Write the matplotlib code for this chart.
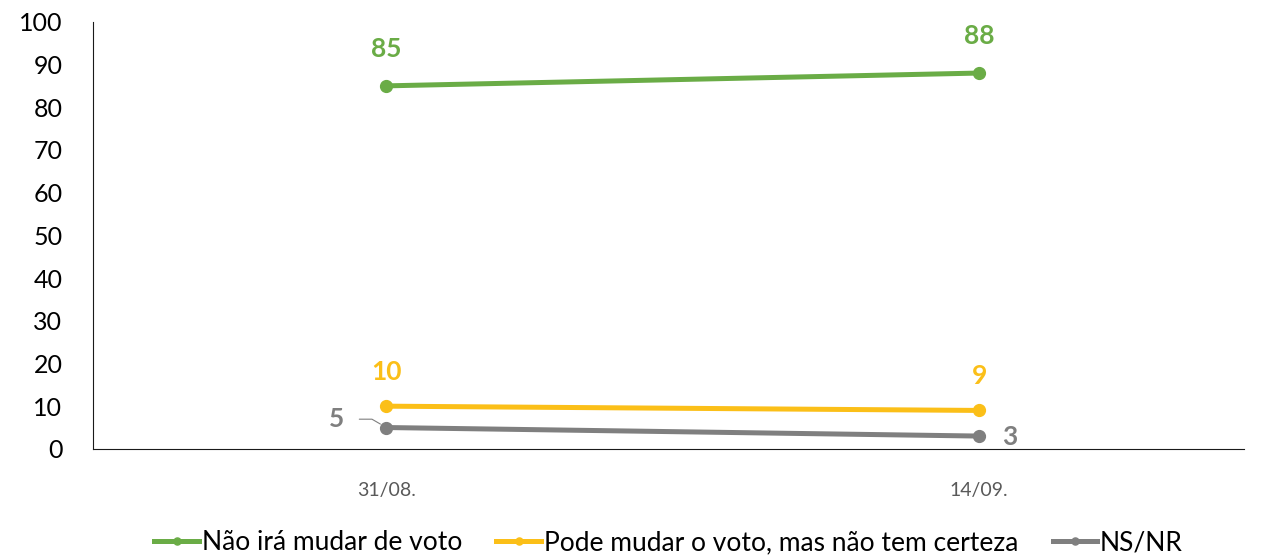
import matplotlib.pyplot as plt

plt.rcParams['font.family'] = ['Lato', 'DejaVu Sans']

datas = ["31/08.", "14/09."]
nao_muda = [85, 88]
pode_mudar = [10, 9]
ns_nr = [5, 3]
nomes = ["Não irá mudar de voto", "Pode mudar o voto, mas não tem certeza", "NS/NR"]

verde = "#6aac46"
amarelo = "#fbbf18"
cinza = "#7f7f7f"

fig = plt.figure(figsize=(12.61, 5.59), dpi=100)
ax = fig.add_axes([0.0737, 0.197, 0.913, 0.764])

x = list(range(len(datas)))
ax.plot(x, nao_muda, color=verde, lw=3.6, marker="o", ms=8.5, label=nomes[0])
ax.plot(x, pode_mudar, color=amarelo, lw=3.6, marker="o", ms=8.5, label=nomes[1])
ax.plot(x, ns_nr, color=cinza, lw=3.6, marker="o", ms=8.5, label=nomes[2])

# rótulos
fs = 19
for i in x:
    ax.annotate(str(nao_muda[i]), (i, nao_muda[i]), xytext=(0, 18), textcoords="offset points",
                ha="center", va="bottom", color=verde, fontsize=fs, fontweight="bold")
for i in x:
    ax.annotate(str(pode_mudar[i]), (i, pode_mudar[i]), xytext=(0, 16), textcoords="offset points",
                ha="center", va="bottom", color=amarelo, fontsize=fs, fontweight="bold")
ax.annotate(str(ns_nr[0]), (0, ns_nr[0]), xytext=(-36, 6), textcoords="offset points",
            ha="center", va="center", color=cinza, fontsize=fs, fontweight="bold",
            arrowprops=dict(arrowstyle="-", color=cinza, lw=0.8, shrinkA=9, shrinkB=5,
                            connectionstyle="angle,angleA=0,angleB=150,rad=0"))
ax.annotate(str(ns_nr[1]), (1, ns_nr[1]), xytext=(22, -1), textcoords="offset points",
            ha="center", va="center", color=cinza, fontsize=fs, fontweight="bold")

ax.set_xlim(-0.495, 1.447)
ax.set_ylim(0, 100)
ax.set_yticks(range(0, 101, 10))
ax.set_xticks(x)
ax.set_xticklabels(datas, color="#595959", fontsize=14)
ax.tick_params(axis="y", length=0, labelsize=18, pad=22)
ax.tick_params(axis="x", length=0, pad=24)
for lado in ["top", "right"]:
    ax.spines[lado].set_visible(False)
ax.spines["left"].set_color("#1a1a1a")
ax.spines["bottom"].set_color("#1a1a1a")

ax.legend(loc="center", bbox_to_anchor=(0.5, -0.22), ncol=3, frameon=False, fontsize=19,
          handlelength=1.7, handletextpad=0.1, columnspacing=1.3, markerscale=0.6)

fig.savefig("out.png", dpi=100)
